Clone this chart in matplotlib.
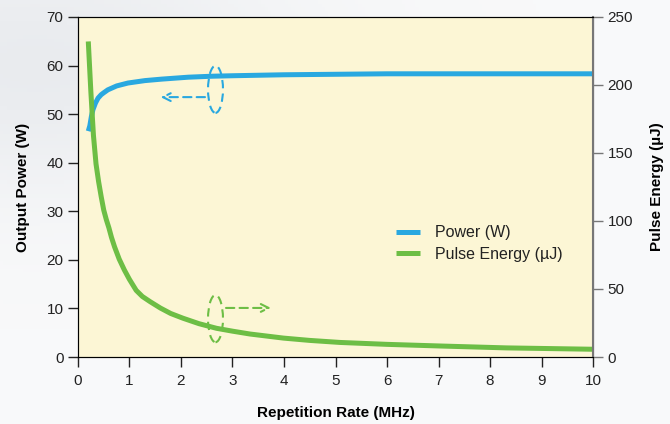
import numpy as np
import matplotlib.pyplot as plt
from matplotlib.patches import Ellipse

plt.rcParams['font.family'] = ['Liberation Sans', 'DejaVu Sans']

# dane
power_rate = [0.2, 0.23, 0.26, 0.29, 0.34, 0.39, 0.45, 0.5, 0.58, 0.75, 0.97, 1.3, 1.62, 2.14, 2.6, 3.0, 4.0, 5.0, 6.0, 8.0, 10.0]
power_w = [46.5, 47.6, 49.5, 50.9, 52.3, 53.3, 54.0, 54.4, 55.0, 55.8, 56.4, 56.9, 57.2, 57.6, 57.8, 57.9, 58.1, 58.2, 58.3, 58.3, 58.3]

energy_rate = [0.2, 0.25, 0.3, 0.35, 0.4, 0.45, 0.5, 0.55, 0.6, 0.65, 0.71, 0.8, 0.9, 1.0, 1.13, 1.25, 1.4, 1.6, 1.8,
               2.04, 2.35, 2.69, 3.0, 3.34, 3.99, 4.5, 5.09, 6.0, 7.03, 8.32, 10.0]
energy_uj = [232, 195, 163, 142, 129, 118, 108, 101, 95, 88, 81, 72, 64, 57, 49, 44.5, 40.7, 36, 32,
             28.5, 24.5, 21.1, 19.0, 16.9, 13.9, 12.2, 10.7, 9.3, 8.1, 6.7, 5.7]

x_ticks = list(range(0, 11))
left_ticks = [0, 10, 20, 30, 40, 50, 60, 70]
right_ticks = [0, 50, 100, 150, 200, 250]

blue = '#29A8E0'
green = '#6DBE45'

fig = plt.figure(figsize=(6.7, 4.24), dpi=100)

# tlo z delikatnym gradientem (szarawe w lewym gornym rogu)
bg = fig.add_axes([0, 0, 1, 1], zorder=-10)
gx, gy = np.meshgrid(np.linspace(0, 1, 200), np.linspace(1, 0, 120))
shade = 0.06 * np.exp(-((gx - 0.05) ** 2 / 0.15 + (gy - 0.85) ** 2 / 0.1)) + 0.025
rgb = np.dstack([1 - shade, 1 - shade * 0.9, 1 - shade * 0.75])
bg.imshow(rgb, aspect='auto', extent=[0, 1, 0, 1])
bg.axis('off')

ax1 = fig.add_axes([0.1164, 0.158, 0.7687, 0.802])
ax1.set_facecolor('#FCF6D5')
ax2 = ax1.twinx()

ax1.plot(power_rate, power_w, color=blue, lw=3.6, solid_capstyle='butt', solid_joinstyle='round', label='Power (W)')
ax2.plot(energy_rate, energy_uj, color=green, lw=3.6, solid_capstyle='butt', solid_joinstyle='round', label='Pulse Energy (µJ)')

ax1.set_xlim(0, 10)
ax1.set_ylim(0, 70)
ax2.set_ylim(0, 250)
ax1.set_xticks(x_ticks)
ax1.set_yticks(left_ticks)
ax2.set_yticks(right_ticks)

ax1.tick_params(labelsize=11, direction='out', length=7, width=1, colors='#222222')
ax2.tick_params(labelsize=11, direction='out', length=7, width=1, color='#777777', labelcolor='#222222')
ax1.tick_params(axis='x', pad=5)

for s in ['left', 'top', 'bottom']:
    ax1.spines[s].set_color('#222222')
ax2.spines['right'].set_color('#777777')
ax2.spines['right'].set_linewidth(1.5)

ax1.set_xlabel('Repetition Rate (MHz)', fontsize=11, fontweight='bold', labelpad=13)
ax1.set_ylabel('Output Power (W)', fontsize=11, fontweight='bold', labelpad=12)
ax2.set_ylabel('Pulse Energy (µJ)', fontsize=11, fontweight='bold', labelpad=12)

# elipsy i strzalki
ax1.add_patch(Ellipse((2.67, 55.1), 0.29, 9.7, fill=False, ec=blue, lw=1.5, ls=(0, (4, 2.5))))
ax1.annotate('', xy=(1.55, 53.5), xytext=(2.52, 53.5),
             arrowprops=dict(arrowstyle='->', color=blue, lw=1.5, ls=(0, (4, 2.5)), mutation_scale=14))
ax1.add_patch(Ellipse((2.67, 7.9), 0.29, 9.7, fill=False, ec=green, lw=1.5, ls=(0, (4, 2.5))))
ax1.annotate('', xy=(3.8, 10.1), xytext=(2.82, 10.1),
             arrowprops=dict(arrowstyle='->', color=green, lw=1.5, ls=(0, (4, 2.5)), mutation_scale=14))

h1, l1 = ax1.get_legend_handles_labels()
h2, l2 = ax2.get_legend_handles_labels()
leg = ax2.legend(h1 + h2, l1 + l2, loc='upper left', bbox_to_anchor=(0.59, 0.43), frameon=False,
                 fontsize=11.5, handlelength=1.5, handletextpad=0.9, labelspacing=0.4)
for t in leg.get_texts():
    t.set_color('#222222')

fig.savefig('out.png', dpi=100)
